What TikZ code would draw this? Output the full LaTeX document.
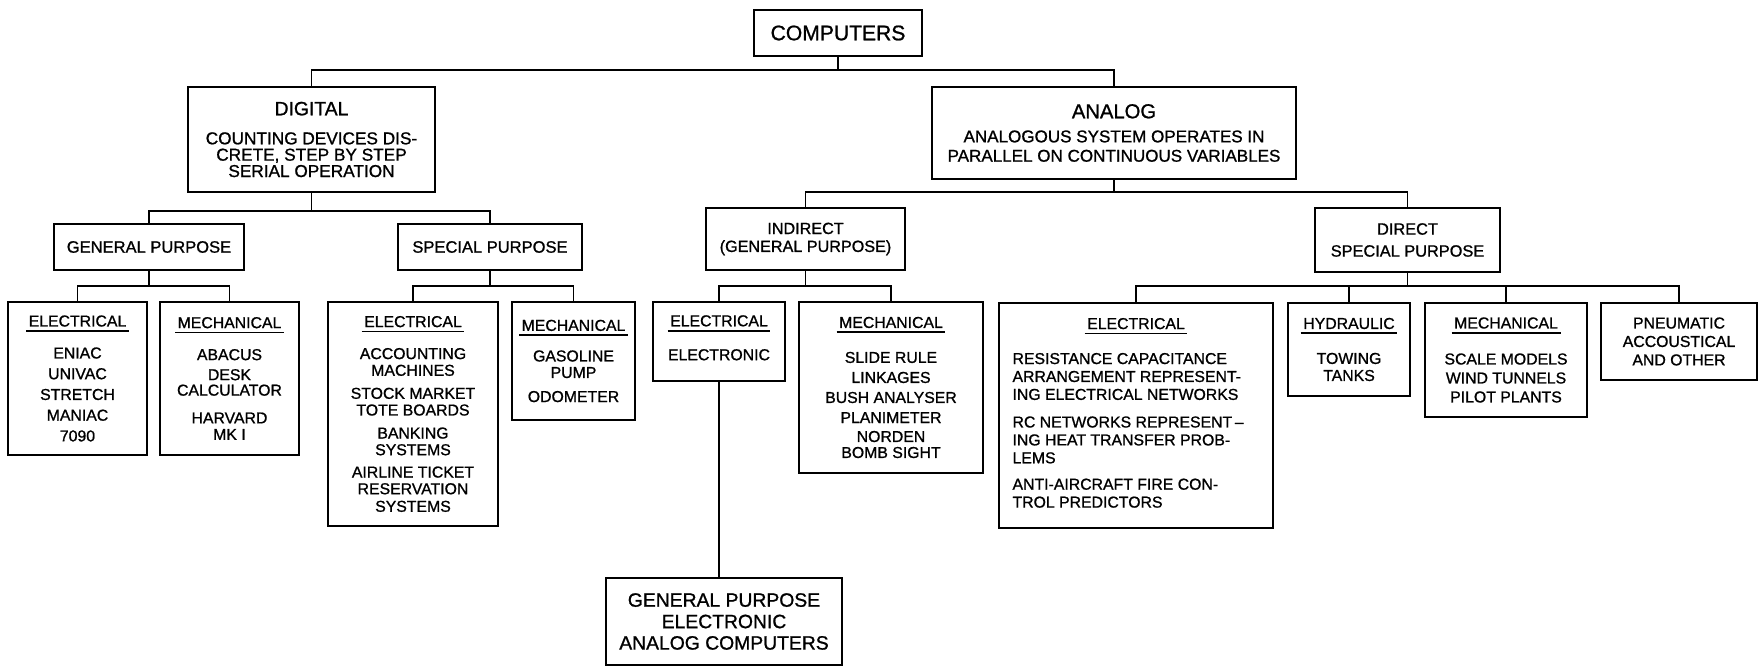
\documentclass[tikz,border=0pt]{standalone}
\usepackage{fontspec}
\setmainfont{Liberation Sans}[FakeBold=1]
\usepackage{tikz}

\newsavebox{\hdrbox}
\newcommand{\hdr}[1]{\sbox{\hdrbox}{#1}\rlap{\kern-1.5pt\rule[-3pt]{\dimexpr\wd\hdrbox+3pt\relax}{1pt}}\usebox{\hdrbox}}

\begin{document}
\begin{tikzpicture}[conn/.style = {line width=1pt}]
	\tikzset{box/.style 2 args={draw, line width=1.5pt, inner sep=0pt, align=center, minimum width=#1cm, minimum height=#2cm, font=\fontsize{9}{11.8}\selectfont}}

	\fill[white] (0,0) rectangle (35.2,-13.34);

	% Raiz
	\node[box={3.36}{0.92}, font=\fontsize{12}{14}\selectfont] (comp) at (16.76,-0.66) {COMPUTERS};

	\node[box={4.94}{2.10}, font=\fontsize{9.8}{9.3}\selectfont] (dig) at (6.23,-2.79) {{\fontsize{11}{12}\selectfont DIGITAL}\\[7.2pt]COUNTING DEVICES DIS-\\CRETE, STEP BY STEP\\SERIAL OPERATION};
	\node[box={7.28}{1.84}, font=\fontsize{9.7}{11}\selectfont] (ana) at (22.28,-2.66) {{\fontsize{11.5}{12}\selectfont ANALOG}\\[2.7pt]ANALOGOUS SYSTEM OPERATES IN\\PARALLEL ON CONTINUOUS VARIABLES};

	% Digital
	\node[box={3.80}{0.92}, font=\fontsize{9.4}{11}\selectfont] (gp) at (2.98,-4.94) {GENERAL PURPOSE};
	\node[box={3.68}{0.92}, font=\fontsize{9.4}{11}\selectfont] (sp) at (9.80,-4.94) {SPECIAL PURPOSE};

	\node[box={2.78}{3.06}] (gpel) at (1.55,-7.57) {\hdr{ELECTRICAL}\\[6.4pt]ENIAC\\UNIVAC\\STRETCH\\MANIAC\\7090};
	\node[box={2.78}{3.06}] (gpmec) at (4.59,-7.57) {\hdr{MECHANICAL}\\[6.4pt]ABACUS\\[-0.4pt]DESK\\[-3pt]CALCULATOR\\[4pt]HARVARD\\[-2.4pt]MK I};
	\node[box={3.40}{4.48}, font=\fontsize{9}{9.5}\selectfont] (spel) at (8.26,-8.28) {\hdr{ELECTRICAL}\\[8.7pt]ACCOUNTING\\MACHINES\\[3.6pt]STOCK MARKET\\TOTE BOARDS\\[3.6pt]BANKING\\SYSTEMS\\[3.2pt]AIRLINE TICKET\\RESERVATION\\[0.5pt]SYSTEMS};
	\node[box={2.46}{2.36}, font=\fontsize{9}{9.4}\selectfont] (spmec) at (11.47,-7.22) {\hdr{MECHANICAL}\\[8pt]GASOLINE\\PUMP\\[4.3pt]ODOMETER};

	% Analog
	\node[box={3.98}{1.24}, font=\fontsize{9.2}{10.2}\selectfont] (ind) at (16.11,-4.78) {INDIRECT\\(GENERAL PURPOSE)};
	\node[box={3.70}{1.28}, font=\fontsize{9.3}{12.5}\selectfont] (dir) at (28.15,-4.80) {DIRECT\\SPECIAL PURPOSE};

	\node[box={2.64}{1.58}, font=\fontsize{9}{10.3}\selectfont] (indel) at (14.38,-6.83) {\hdr{ELECTRICAL}\\[9pt]ELECTRONIC\\[-6pt]\mbox{}};
	\node[box={3.68}{3.42}, font=\fontsize{9}{11.4}\selectfont] (indmec) at (17.82,-7.75) {\hdr{MECHANICAL}\\[8.5pt]SLIDE RULE\\LINKAGES\\BUSH ANALYSER\\PLANIMETER\\[-0.6pt]NORDEN\\[-2.3pt]BOMB SIGHT};
	\node[box={4.72}{1.74}, font=\fontsize{11}{12.2}\selectfont] (anacomp) at (14.48,-12.43) {GENERAL PURPOSE\\ELECTRONIC\\ANALOG COMPUTERS};

	\node[box={5.48}{4.50}, font=\fontsize{9}{10.2}\selectfont] (direl) at (22.72,-8.31) {\hdr{ELECTRICAL}\\[9.7pt]\hspace*{-9pt}\begin{tabular}[t]{@{}l@{}}RESISTANCE CAPACITANCE\\ARRANGEMENT REPRESENT-\\ING ELECTRICAL NETWORKS\\[5.5pt]RC NETWORKS REPRESENT\,--\\ING HEAT TRANSFER PROB-\\LEMS\\[4.8pt]ANTI-AIRCRAFT FIRE CON-\\TROL PREDICTORS\end{tabular}};
	\node[box={2.44}{1.86}, font=\fontsize{9}{9.7}\selectfont] (hyd) at (26.98,-6.99) {\hdr{HYDRAULIC}\\[10.2pt]TOWING\\TANKS};
	\node[box={3.24}{2.28}, font=\fontsize{9}{10.8}\selectfont] (dirmec) at (30.12,-7.20) {\hdr{MECHANICAL}\\[9.7pt]SCALE MODELS\\WIND TUNNELS\\PILOT PLANTS};
	\node[box={3.12}{1.54}, font=\fontsize{9}{10.5}\selectfont] (pneu) at (33.58,-6.83) {PNEUMATIC\\ACCOUSTICAL\\AND OTHER};

	% Lineas
	\coordinate (l1) at (0,-1.40);
	\coordinate (l2d) at (0,-4.22);
	\coordinate (l2a) at (0,-3.84);
	\coordinate (l3) at (0,-5.72);

	\draw[conn] (comp.south) -- (comp.south |- l1);
	\draw[conn] (dig.north) |- (ana.north |- l1) -- (ana.north);

	\draw[conn] (dig.south) -- (dig.south |- l2d);
	\draw[conn] (gp.north) |- (sp.north |- l2d) -- (sp.north);
	\draw[conn] (ana.south) -- (ana.south |- l2a);
	\draw[conn] (ind.north) |- (dir.north |- l2a) -- (dir.north);

	\foreach \p/\a/\b in {gp/gpel/gpmec, sp/spel/spmec, ind/indel/indmec} {
		\draw[conn] (\p.south) -- (\p.south |- l3);
		\draw[conn] (\a.north) |- (\b.north |- l3) -- (\b.north);
	}

	\draw[conn] (dir.south) -- (dir.south |- l3);
	\draw[conn] (direl.north) |- (pneu.north |- l3) -- (pneu.north);
	\foreach \n in {hyd, dirmec} \draw[conn] (\n.north) -- (\n.north |- l3);

	\draw[conn] (indel.south) -- (anacomp.north -| indel.south);

\end{tikzpicture}
\end{document}
